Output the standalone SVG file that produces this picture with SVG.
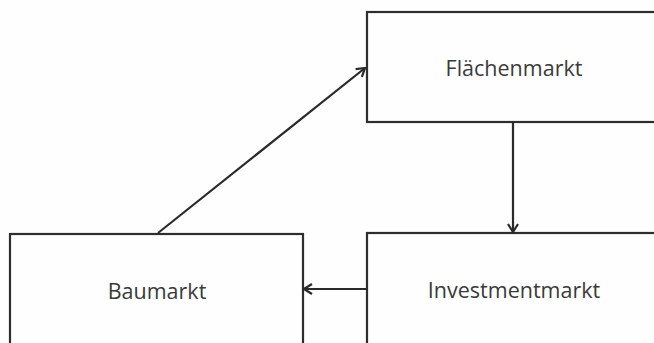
<svg xmlns="http://www.w3.org/2000/svg" width="654" height="343" viewBox="0 0 654 343">
<style>
.box{fill:#fefefe;stroke:#2e2e2e;stroke-width:2.2}
.lbl{font-family:"Open Sans","Noto Sans",sans-serif;font-size:21.5px;fill:#3a3a3a;text-anchor:middle}
.con{stroke:#2a2a2a;stroke-width:2.2;fill:none;marker-end:url(#ah)}
</style>
<defs>
<marker id="ah" viewBox="0 0 12 12" refX="11" refY="6" markerWidth="12" markerHeight="12" markerUnits="userSpaceOnUse" orient="auto">
<polyline points="3,1 11,6 3,11" fill="none" stroke="#2a2a2a" stroke-width="2.2"/>
</marker>
</defs>
<rect width="654" height="343" fill="#fefefe"/>
<g id="flaechenmarkt">
<rect class="box" x="367" y="12" width="300" height="110"/>
<text class="lbl" x="514" y="76">Flächenmarkt</text>
</g>
<g id="investmentmarkt">
<rect class="box" x="367" y="233" width="300" height="130"/>
<text class="lbl" x="514" y="298">Investmentmarkt</text>
</g>
<g id="baumarkt">
<rect class="box" x="10" y="234" width="293" height="130"/>
<text class="lbl" x="157" y="299">Baumarkt</text>
</g>
<g id="connectors">
<line class="con" x1="158" y1="233" x2="365" y2="68"/>
<line class="con" x1="513" y1="122" x2="513" y2="232"/>
<line class="con" x1="366" y1="289" x2="304" y2="289"/>
</g>
</svg>
